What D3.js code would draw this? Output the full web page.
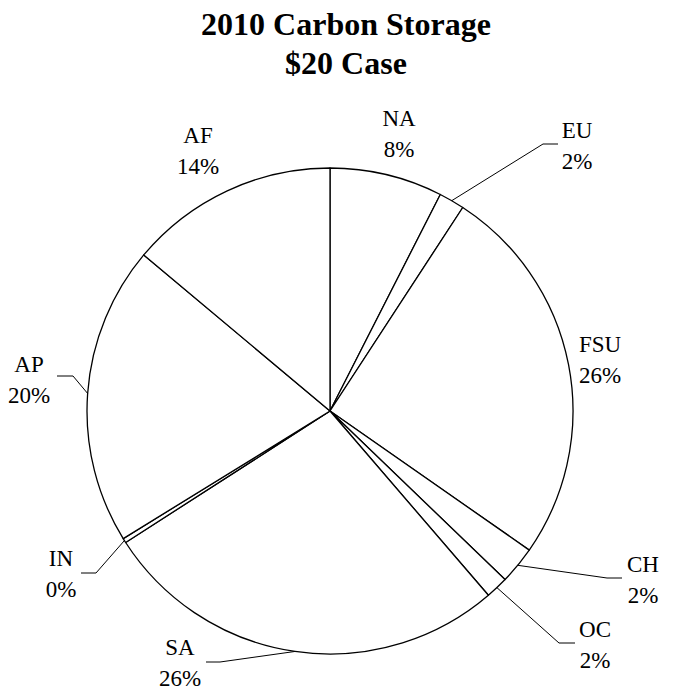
<!DOCTYPE html>
<html>
<head>
<meta charset="utf-8">
<script src="https://cdn.jsdelivr.net/npm/d3@7"></script>
<style>
  html, body { margin: 0; padding: 0; background: #fff; }
  svg { display: block; }
  text { font-family: "Liberation Serif", "Times New Roman", serif; fill: #000; }
</style>
</head>
<body>
<svg id="chart" width="681" height="694"></svg>
<script>
// ---- data ----
const titleLines = ["2010 Carbon Storage", "$20 Case"];
const regions = ["NA", "EU", "FSU", "CH", "OC", "SA", "IN", "AP", "AF"];
const shares = [7.5, 1.7, 25.5, 2.5, 1.5, 27.2, 0.3, 19.9, 13.9];
const pctLabels = ["8%", "2%", "26%", "2%", "2%", "26%", "0%", "20%", "14%"];

// ---- layout (positions / sizes, kept separate from data) ----
const W = 681, H = 694;
const cx = 330, cy = 411, R = 243;
const labelFont = 23, titleFont = 32;
// label anchor: center x, baseline of name; leader: elbow x,y and end x (null = no leader)
const labelLayout = {
  NA:  { x: 399, y: 126 },
  EU:  { x: 577, y: 138, elbow: [543, 144], end: 558 },
  FSU: { x: 600, y: 352 },
  CH:  { x: 643, y: 572, elbow: [607, 578], end: 622 },
  OC:  { x: 595, y: 637, elbow: [559, 643], end: 575 },
  SA:  { x: 180, y: 655, elbow: [220, 662], end: 206 },
  IN:  { x: 61,  y: 566, elbow: [96, 573],  end: 81 },
  AP:  { x: 29,  y: 372, elbow: [73, 376],  end: 57 },
  AF:  { x: 198, y: 143 }
};
const lineGap = 31;

const svg = d3.select("#chart");

// title
svg.append("g").selectAll("text").data(titleLines).join("text")
  .attr("x", 346)
  .attr("y", (d, i) => 35 + i * 39)
  .attr("text-anchor", "middle")
  .attr("font-weight", "bold")
  .attr("font-size", titleFont)
  .text(d => d);

const data = regions.map((r, i) => ({ region: r, value: shares[i], pct: pctLabels[i] }));

const pie = d3.pie().value(d => d.value).sort(null);
const arcs = pie(data);
const arc = d3.arc().innerRadius(0).outerRadius(R);

const g = svg.append("g").attr("transform", `translate(${cx},${cy})`);
g.selectAll("path").data(arcs).join("path")
  .attr("d", arc)
  .attr("fill", "#fff")
  .attr("stroke", "#000")
  .attr("stroke-width", 1.3)
  .attr("stroke-linejoin", "round");

// leader lines
const leaders = arcs.filter(a => labelLayout[a.data.region].elbow);
svg.append("g").selectAll("polyline").data(leaders).join("polyline")
  .attr("fill", "none")
  .attr("stroke", "#000")
  .attr("stroke-width", 1)
  .attr("points", a => {
    const L = labelLayout[a.data.region];
    const mid = (a.startAngle + a.endAngle) / 2;
    const sx = cx + R * Math.sin(mid), sy = cy - R * Math.cos(mid);
    return [[sx, sy], L.elbow, [L.end, L.elbow[1]]].map(p => p.join(",")).join(" ");
  });

// labels
const lab = svg.append("g").selectAll("text").data(arcs).join("text")
  .attr("text-anchor", "middle")
  .attr("font-size", labelFont);
lab.append("tspan")
  .attr("x", a => labelLayout[a.data.region].x)
  .attr("y", a => labelLayout[a.data.region].y)
  .text(a => a.data.region);
lab.append("tspan")
  .attr("x", a => labelLayout[a.data.region].x)
  .attr("y", a => labelLayout[a.data.region].y + lineGap)
  .text(a => a.data.pct);
</script>
</body>
</html>
